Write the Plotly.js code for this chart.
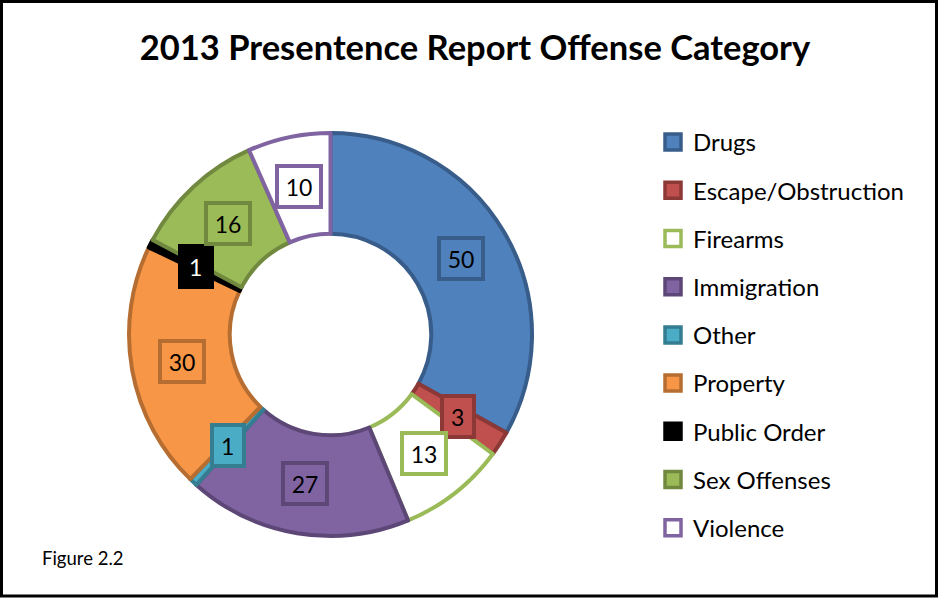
<!DOCTYPE html>
<html>
<head>
<meta charset="utf-8">
<script src="https://cdn.plot.ly/plotly-3.0.1.min.js"></script>
<style>html,body{margin:0;padding:0;background:#fff}#chart{width:938px;height:599px}</style>
</head>
<body>
<div id="chart"></div>
<script>
const categories = ["Drugs","Escape/Obstruction","Firearms","Immigration","Other","Property","Public Order","Sex Offenses","Violence"];
const counts = [50, 3, 13, 27, 1, 30, 1, 16, 10];
const fillColors = ["#4F81BD","#C0504D","#FFFFFF","#8064A2","#4BACC6","#F79646","#000000","#9BBB59","#FFFFFF"];
const lineColors = ["#385D8A","#8C3836","#9BBB59","#5C4776","#357D91","#B66D31","#000000","#71893F","#8064A2"];
const labelFontColors = ["#000","#000","#000","#000","#000","#000","#FFF","#000","#000"];
const titleText = "2013 Presentence Report Offense Category";
const footnote = "Figure 2.2";

const W = 938, H = 599;
const FONT = "Lato, 'Open Sans', sans-serif";
const cxPx = 330.5, cyPx = 334.5, R = 201.5;
const dom = {
  x: [(cxPx - R) / W, (cxPx + R) / W],
  y: [((H - cyPx) - R) / H, ((H - cyPx) + R) / H]
};
const hole = 0.5;

const traces = [{
  type: "pie",
  labels: categories,
  values: counts,
  sort: false,
  direction: "clockwise",
  rotation: 0,
  hole: hole,
  domain: dom,
  textinfo: "none",
  showlegend: false,
  marker: { colors: fillColors, line: { color: lineColors, width: 4 } },
  hoverinfo: "label+value"
}];

// legend entries (one per category, grouped to control spacing)
categories.forEach((c, i) => {
  traces.push({
    type: "scatter", mode: "markers",
    x: [null], y: [null],
    name: c, legendgroup: "g" + i,
    marker: { symbol: "square", size: 16, color: fillColors[i], line: { color: lineColors[i], width: 3.5 } },
    hoverinfo: "skip"
  });
});

// value labels boxed at mid-ring radius, computed from the data
const total = counts.reduce((a, b) => a + b, 0);
const rMid = R * (1 + hole) / 2;
const cxP = (dom.x[0] + dom.x[1]) / 2, cyP = (dom.y[0] + dom.y[1]) / 2;
const annotations = [];
let cum = 0;
counts.forEach((v, i) => {
  const a = (cum + v / 2) / total * 2 * Math.PI;
  cum += v;
  const txt = String(v);
  annotations.push({
    xref: "paper", yref: "paper",
    x: cxP + rMid * Math.sin(a) / W,
    y: cyP + rMid * Math.cos(a) / H,
    text: txt, showarrow: false,
    xanchor: "center", yanchor: "middle",
    width: 6 + 12.5 * txt.length,
    font: { family: FONT, size: 23, color: labelFontColors[i] },
    bgcolor: fillColors[i], bordercolor: lineColors[i], borderwidth: 4, borderpad: 4.5
  });
});
annotations.push({
  xref: "paper", yref: "paper", x: 40 / W, y: (H - 558) / H,
  xanchor: "left", yanchor: "middle", showarrow: false,
  text: footnote, font: { family: FONT, size: 18.5, color: "#000" }
});

const layout = {
  width: W, height: H,
  margin: { l: 0, r: 0, t: 0, b: 0 },
  paper_bgcolor: "#FFFFFF", plot_bgcolor: "#FFFFFF",
  font: { family: FONT, color: "#000" },
  title: {
    text: "<b>" + titleText + "</b>",
    x: 475 / W, xanchor: "center", xref: "paper",
    y: (H - 48) / H, yanchor: "middle", yref: "paper",
    font: { family: FONT, size: 34.5, color: "#000" }
  },
  xaxis: { visible: false, fixedrange: true },
  yaxis: { visible: false, fixedrange: true },
  showlegend: true,
  legend: {
    x: 653 / W, xanchor: "left",
    y: (H - 120) / H, yanchor: "top",
    font: { family: FONT, size: 24, color: "#000" },
    tracegroupgap: 14, traceorder: "grouped",
    bgcolor: "rgba(0,0,0,0)"
  },
  annotations: annotations,
  shapes: [{
    type: "rect", xref: "paper", yref: "paper",
    x0: 1.5 / W, x1: 936.5 / W, y0: 3 / H, y1: (H - 1.5) / H,
    line: { color: "#000", width: 3 }, fillcolor: "rgba(0,0,0,0)", layer: "above"
  }]
};

Plotly.newPlot("chart", traces, layout, { displayModeBar: false, staticPlot: true });
</script>
</body>
</html>
